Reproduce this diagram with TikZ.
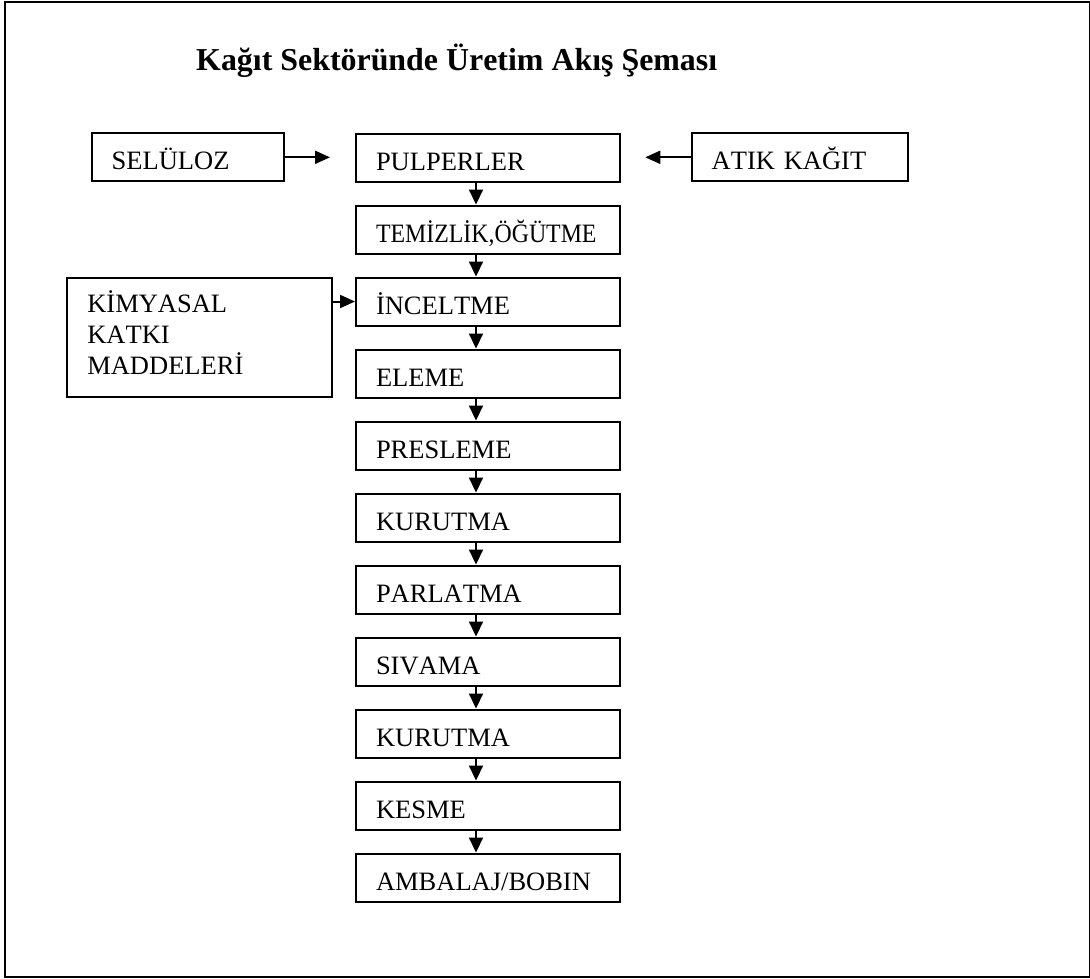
\documentclass[tikz,border=0pt]{standalone}
\usepackage{fontspec}
\setmainfont[Kerning=Off]{Liberation Serif}
\usepackage{graphicx}
\usetikzlibrary{arrows.meta}
\tikzset{
  box/.style={draw, line width=2pt, inner xsep=20pt, inner ysep=0pt,
    minimum height=48pt, text height=25.2pt, text depth=0pt, align=left,
    font=\fontsize{26.5pt}{31pt}\selectfont},
  mainbox/.style={box, text width=224pt},
  multibox/.style={draw, line width=2pt, inner xsep=20pt, inner ysep=0pt,
    font=\fontsize{26.5pt}{31pt}\selectfont},
  arr/.style={line width=2pt, -{Triangle[length=15pt,width=14pt]}},
  harr/.style={line width=2pt, -{Triangle[length=15pt,width=13pt]}},
  frame/.style={line width=2pt},
  titlefont/.style={font=\bfseries\fontsize{31.9pt}{38pt}\selectfont}
}
\begin{document}
\begin{tikzpicture}[x=1pt,y=-1pt]
\useasboundingbox (0,0) rectangle (1090,978);
\draw[frame] (5,2) rectangle (1089.5,976.7);

\node[titlefont, anchor=base west, inner sep=0pt] (title) at (196,70) {Kağıt Sektöründe Üretim Akış Şeması};

% main column
\node[mainbox] (pul)  at (488,157.5) {PULPERLER};
\node[mainbox] (tem)  at (488,229.5) {\scalebox{0.9}[1]{TEMİZLİK,ÖĞÜTME}};
\node[mainbox] (inc)  at (488,301.5) {İNCELTME};
\node[mainbox] (ele)  at (488,373.5) {ELEME};
\node[mainbox] (pre)  at (488,445.5) {PRESLEME};
\node[mainbox] (kur1) at (488,517.5) {KURUTMA};
\node[mainbox] (par)  at (488,589.5) {PARLATMA};
\node[mainbox] (siv)  at (488,661.5) {SIVAMA};
\node[mainbox] (kur2) at (488,733.5) {KURUTMA};
\node[mainbox] (kes)  at (488,805.5) {KESME};
\node[mainbox] (amb)  at (488,877.5) {AMBALAJ/BOBIN};

% side inputs
\node[box, text width=152.3pt] (sel)  at (187.85,157.3) {SELÜLOZ};
\node[box, text width=176.6pt] (atik) at (800,157.3) {ATIK KAĞIT};
\node[multibox, text width=225pt, minimum height=119.6pt] (kim) at (199.8,337.5)
  {\noindent\begin{tabular}{@{}l@{}}KİMYASAL\\KATKI\\MADDELERİ\end{tabular}};

% horizontal arrows
\draw[harr, shorten >=25pt] (sel.east) -- (sel.east -| pul.west);
\draw[harr, shorten >=24.3pt] (atik.west) -- (atik.west -| pul.east);
\draw[harr] (kim.east |- inc.west) -- (inc.west);

% vertical arrows
\draw[arr] ([xshift=-12pt]pul.south)  -- ([xshift=-12pt]tem.north);
\draw[arr] ([xshift=-12pt]tem.south)  -- ([xshift=-12pt]inc.north);
\draw[arr] ([xshift=-12pt]inc.south)  -- ([xshift=-12pt]ele.north);
\draw[arr] ([xshift=-12pt]ele.south)  -- ([xshift=-12pt]pre.north);
\draw[arr] ([xshift=-12pt]pre.south)  -- ([xshift=-12pt]kur1.north);
\draw[arr] ([xshift=-12pt]kur1.south) -- ([xshift=-12pt]par.north);
\draw[arr] ([xshift=-12pt]par.south)  -- ([xshift=-12pt]siv.north);
\draw[arr] ([xshift=-12pt]siv.south)  -- ([xshift=-12pt]kur2.north);
\draw[arr] ([xshift=-12pt]kur2.south) -- ([xshift=-12pt]kes.north);
\draw[arr] ([xshift=-12pt]kes.south)  -- ([xshift=-12pt]amb.north);
\end{tikzpicture}
\end{document}
